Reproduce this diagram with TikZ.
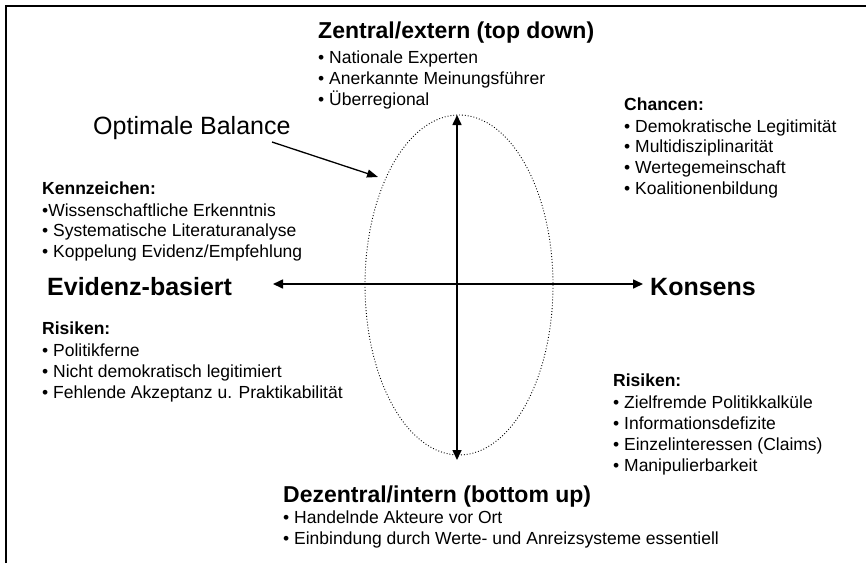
\documentclass[tikz,border=0pt]{standalone}
\usepackage{fontspec}
\setmainfont{Liberation Sans}
\usetikzlibrary{arrows.meta}
\tikzset{
  txt/.style={anchor=base west, inner sep=0pt, font=\fontsize{17.5}{21}\selectfont},
  hd/.style={anchor=base west, inner sep=0pt, font=\bfseries\fontsize{17.5}{21}\selectfont},
  pole/.style={anchor=base west, inner sep=0pt, font=\bfseries\fontsize{25}{30}\selectfont},
  head/.style={anchor=base west, inner sep=0pt, font=\bfseries\fontsize{23}{27}\selectfont},
  balance/.style={anchor=base west, inner sep=0pt, font=\fontsize{25}{30}\selectfont},
  axisline/.style={line width=1.6pt, {Triangle[length=10pt,width=9pt]}-{Triangle[length=10pt,width=9pt]}},
  frame/.style={line width=2pt},
  balancearrow/.style={line width=1.3pt, -{Triangle[length=11pt,width=8pt]}},
}
\begin{document}
\begin{tikzpicture}[x=1pt,y=-1pt]
\useasboundingbox (0,0) rectangle (866,563);
\fill[white] (0,0) rectangle (866,563);
% frame
\coordinate (fbl) at (6,563);
\coordinate (ftl) at (6,6);
\coordinate (ftr) at (866,6);
\draw[frame] (fbl) -- (ftl) -- (ftr);
% ellipse
\draw[dotted, line width=0.9pt] (459,285) ellipse [x radius=94, y radius=170];
% axes
\coordinate (atop) at (457,115);
\coordinate (abot) at (457,460);
\coordinate (aleft) at (273,284);
\coordinate (aright) at (643,284);
\draw[axisline] (abot) -- (atop);
\draw[axisline] (aleft) -- (aright);
% top
\node[head] (zt) at (318,38) {Zentral/extern (top down)};
\node[txt] (z1) at (318,63) {• Nationale Experten};
\node[txt] (z2) at (318,84) {• Anerkannte Meinungsführer};
\node[txt] (z3) at (318,105) {• Überregional};
% optimal balance
\node[balance] (ob) at (93,134) {Optimale Balance};
\coordinate (obtip) at (378,177);
\coordinate (obstart) at (272,142);
\draw[balancearrow] (obstart) -- (obtip);
% Chancen
\node[hd] (ch) at (624,110) {Chancen:};
\node[txt] (c1) at (624,132) {• Demokratische Legitimität};
\node[txt] (c2) at (624,152) {• Multidisziplinarität};
\node[txt] (c3) at (624,173) {• Wertegemeinschaft};
\node[txt] (c4) at (624,194) {• Koalitionenbildung};
% Kennzeichen
\node[hd] (kz) at (42,194) {Kennzeichen:};
\node[txt] (k1) at (42,216) {•Wissenschaftliche Erkenntnis};
\node[txt] (k2) at (42,236) {• Systematische Literaturanalyse};
\node[txt] (k3) at (42,257) {• Koppelung Evidenz/Empfehlung};
% poles
\node[pole] (ev) at (47,295) {Evidenz-basiert};
\node[pole] (ko) at (650,295) {Konsens};
% Risiken left
\node[hd] (rl) at (42,334) {Risiken:};
\node[txt] (rl1) at (42,356) {• Politikferne};
\node[txt] (rl2) at (42,377) {• Nicht demokratisch legitimiert};
\node[txt] (rl3) at (42,398) {• Fehlende Akzeptanz u. Praktikabilität};
% Risiken right
\node[hd] (rr) at (613,386) {Risiken:};
\node[txt] (rr1) at (613,408) {• Zielfremde Politikkalküle};
\node[txt] (rr2) at (613,429) {• Informationsdefizite};
\node[txt] (rr3) at (613,450) {• Einzelinteressen (Claims)};
\node[txt] (rr4) at (613,471) {• Manipulierbarkeit};
% bottom
\node[head] (dz) at (283,502) {Dezentral/intern (bottom up)};
\node[txt] (d1) at (283,523) {• Handelnde Akteure vor Ort};
\node[txt] (d2) at (283,544) {• Einbindung durch Werte- und Anreizsysteme essentiell};
\end{tikzpicture}
\end{document}
